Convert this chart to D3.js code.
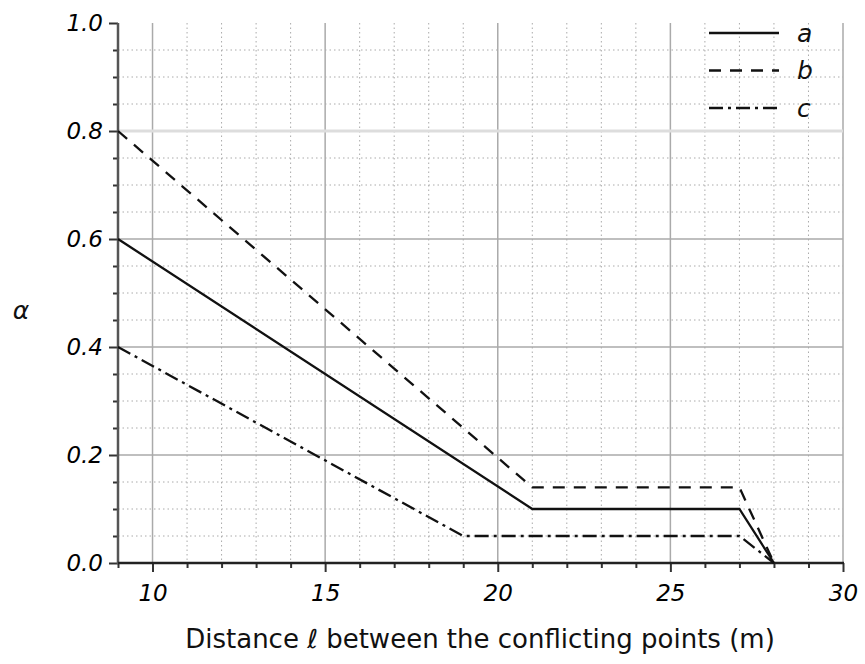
<!DOCTYPE html>
<html>
<head>
<meta charset="utf-8">
<script src="https://cdn.jsdelivr.net/npm/d3@7"></script>
<style>
  body { margin: 0; background: #fff; }
  text { font-family: "DejaVu Sans", Verdana, sans-serif; }
</style>
</head>
<body>
<div id="chart"></div>
<script>
// data
var seriesNames = ['a', 'b', 'c'];
var distA = [9, 21, 27, 28];
var alphaA = [0.6, 0.1, 0.1, 0];
var distB = [9, 21, 27, 28];
var alphaB = [0.8, 0.14, 0.14, 0];
var distC = [9, 19, 27, 28];
var alphaC = [0.4, 0.05, 0.05, 0];
var xTicks = [10, 15, 20, 25, 30];
var yTicks = [0, 0.2, 0.4, 0.6, 0.8, 1.0];

var svgWidth = 865
var svgHeight = 664

var svg = d3.select('#chart')
    .append('svg')
    .attr('width', svgWidth)
    .attr('height', svgHeight)

var x = d3.scaleLinear().domain([9, 30]).range([118, 843])
var y = d3.scaleLinear().domain([0, 1]).range([563, 23])

// minor grid (every 1 in x, every 0.05 in y)
var xMinor = d3.range(10, 30, 1).filter(function(d) { return d % 5 != 0 })
var yMinor = d3.range(1, 20).map(function(i) { return i * 0.05 }).filter(function(d, i) { return (i + 1) % 4 != 0 })

svg.append('g').selectAll('line')
    .data(xMinor)
    .enter()
    .append('line')
    .attr('x1', function(d) { return x(d) })
    .attr('x2', function(d) { return x(d) })
    .attr('y1', y(1))
    .attr('y2', y(0))
    .attr('stroke', '#aaa')
    .attr('stroke-width', 1)
    .attr('stroke-dasharray', '1.5,3')

svg.append('g').selectAll('line')
    .data(yMinor)
    .enter()
    .append('line')
    .attr('x1', x(9))
    .attr('x2', x(30))
    .attr('y1', function(d) { return y(d) })
    .attr('y2', function(d) { return y(d) })
    .attr('stroke', '#aaa')
    .attr('stroke-width', 1)
    .attr('stroke-dasharray', '1.5,3')

// major grid
svg.append('g').selectAll('line')
    .data(xTicks)
    .enter()
    .append('line')
    .attr('x1', function(d) { return x(d) })
    .attr('x2', function(d) { return x(d) })
    .attr('y1', y(1))
    .attr('y2', y(0))
    .attr('stroke', '#aaa')
    .attr('stroke-width', 1.5)

svg.append('g').selectAll('line')
    .data(yTicks.slice(1, 5))
    .enter()
    .append('line')
    .attr('x1', x(9))
    .attr('x2', x(30))
    .attr('y1', function(d) { return y(d) })
    .attr('y2', function(d) { return y(d) })
    .attr('stroke', function(d) { return d == 0.8 ? '#ddd' : '#aaa' })
    .attr('stroke-width', function(d) { return d == 0.8 ? 3 : 1.5 })

// axes
var xAxis = d3.axisBottom(x).tickValues(xTicks).tickSize(9).tickFormat(d3.format('d'))
var xAxisMinor = d3.axisBottom(x).tickValues(xMinor.concat([9])).tickSize(5).tickFormat('')
var yAxis = d3.axisLeft(y).tickValues(yTicks).tickSize(9).tickFormat(d3.format('.1f'))
var yAxisMinor = d3.axisLeft(y).tickValues(yMinor).tickSize(5).tickFormat('')

function styleAxis(g, color) {
    g.select('.domain').remove()
    g.selectAll('line').attr('stroke', color).attr('stroke-width', 2)
    g.selectAll('text')
        .attr('font-size', 23)
        .attr('font-style', 'italic')
        .attr('fill', '#000')
}

var gxMinor = svg.append('g').attr('transform', 'translate(0,' + y(0) + ')').call(xAxisMinor)
styleAxis(gxMinor, '#333')
var gx = svg.append('g').attr('transform', 'translate(0,' + y(0) + ')').call(xAxis)
styleAxis(gx, '#333')
gx.selectAll('text').attr('dy', 0).attr('y', 38)

var gyMinor = svg.append('g').attr('transform', 'translate(' + x(9) + ',0)').call(yAxisMinor)
styleAxis(gyMinor, '#333')
var gy = svg.append('g').attr('transform', 'translate(' + x(9) + ',0)').call(yAxis)
styleAxis(gy, '#333')
gy.selectAll('text').attr('x', -15)

svg.append('line')
    .attr('x1', x(9)).attr('x2', x(9))
    .attr('y1', y(1)).attr('y2', y(0) + 1)
    .attr('stroke', '#555').attr('stroke-width', 2.5)
svg.append('line')
    .attr('x1', x(9)).attr('x2', x(30) + 1)
    .attr('y1', y(0)).attr('y2', y(0))
    .attr('stroke', '#222').attr('stroke-width', 2.5)

// series
var series = [
    { name: seriesNames[0], xs: distA, ys: alphaA, dash: null },
    { name: seriesNames[1], xs: distB, ys: alphaB, dash: '12,9' },
    { name: seriesNames[2], xs: distC, ys: alphaC, dash: '14,5,3,5' }
]

var line = d3.line()
    .x(function(d) { return x(d[0]) })
    .y(function(d) { return y(d[1]) })

svg.append('g').selectAll('path')
    .data(series)
    .enter()
    .append('path')
    .attr('d', function(s) { return line(d3.zip(s.xs, s.ys)) })
    .attr('fill', 'none')
    .attr('stroke', '#111')
    .attr('stroke-width', 2.3)
    .attr('stroke-dasharray', function(s) { return s.dash })

// legend
var legend = svg.append('g').selectAll('g')
    .data(series)
    .enter()
    .append('g')
    .attr('transform', function(d, i) { return 'translate(709,' + (33 + i * 37.5) + ')' })

legend.append('line')
    .attr('x1', 0).attr('x2', 70)
    .attr('stroke', '#111')
    .attr('stroke-width', 2.5)
    .attr('stroke-dasharray', function(s) { return s.dash })

legend.append('text')
    .attr('x', 88)
    .attr('dy', '0.35em')
    .attr('font-size', 25)
    .attr('font-style', 'italic')
    .attr('fill', '#111')
    .text(function(s) { return s.name })

// axis titles
svg.append('text')
    .attr('x', 480)
    .attr('y', 648)
    .attr('text-anchor', 'middle')
    .attr('font-size', 26)
    .attr('fill', '#111')
    .text('Distance \u2113 between the conflicting points (m)')

svg.append('text')
    .attr('x', 21)
    .attr('y', 319)
    .attr('text-anchor', 'middle')
    .attr('font-size', 25)
    .attr('font-style', 'italic')
    .attr('fill', '#111')
    .text('\u03b1')
</script>
</body>
</html>
